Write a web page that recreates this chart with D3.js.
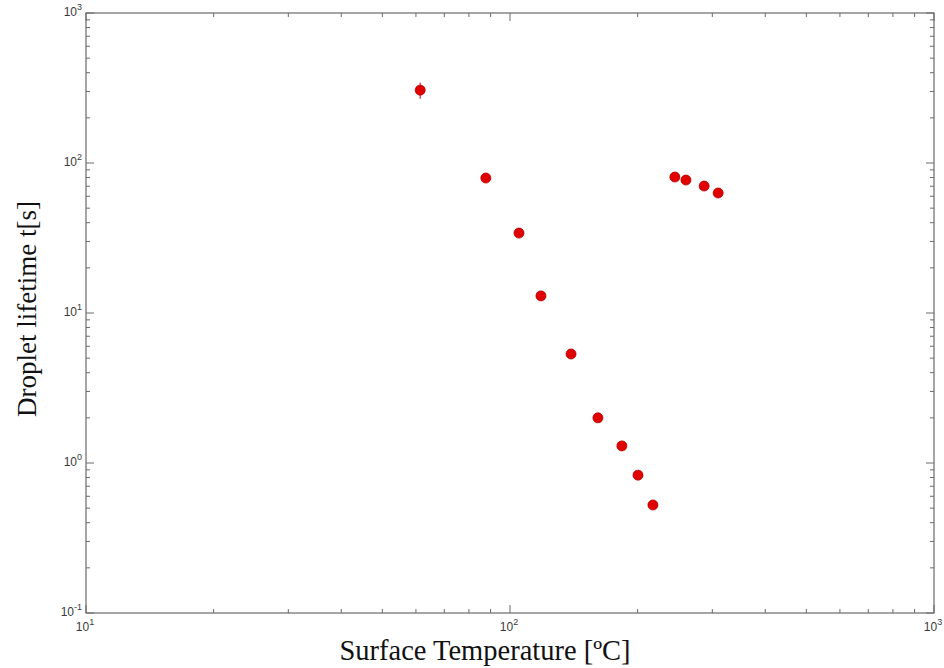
<!DOCTYPE html>
<html>
<head>
<meta charset="utf-8">
<script src="https://cdn.jsdelivr.net/npm/d3@7"></script>
<style>
  html, body { margin: 0; padding: 0; background: #fff; }
  svg { display: block; }
</style>
</head>
<body>
<div id="chart"></div>
<script>
// Surface temperature [ºC] and droplet lifetime [s]
const temperature = [61.4, 87.7, 105, 118.3, 139.3, 161.2, 183.6, 200.4, 217.3, 244.8, 260, 287, 309.7]
const lifetime = [306, 79.4, 34.1, 13.0, 5.33, 2.0, 1.30, 0.83, 0.525, 80.6, 77.0, 70.2, 63.1]
// error bar half-height in seconds (only the first one is visible)
const lifetimeErr = [38, 0, 0, 0, 0, 0, 0, 0, 0, 0, 0, 0, 0]
const xTickExps = [1, 2, 3]
const yTickExps = [-1, 0, 1, 2, 3]

const width = 944
const height = 668
const plotLeft = 86
const plotRight = 934
const plotTop = 13
const plotBottom = 613

const svg = d3.select('#chart')
    .append('svg')
    .attr('width', width)
    .attr('height', height)
    .attr('viewBox', [0, 0, width, height])

const x = d3.scaleLog()
    .domain([10, 1000])
    .range([plotLeft, plotRight])
const y = d3.scaleLog()
    .domain([0.1, 1000])
    .range([plotBottom, plotTop])

const axisColor = '#6a6a6a'
const majorLen = 8
const minorLen = 4

// minor tick positions (2..9 in each decade)
const minorVals = (scale) => {
    const [a, b] = scale.domain()
    const out = []
    for (let e = Math.log10(a); e < Math.log10(b); e++) {
        for (let m = 2; m <= 9; m++) out.push(m * Math.pow(10, e))
    }
    return out
}

const axes = svg.append('g').attr('id', 'axes')

// box
axes.append('rect')
    .attr('x', plotLeft)
    .attr('y', plotTop)
    .attr('width', plotRight - plotLeft)
    .attr('height', plotBottom - plotTop)
    .attr('fill', 'none')
    .attr('stroke', axisColor)
    .attr('stroke-width', 1.2)

// x ticks, bottom and top, pointing inward
const xMajor = xTickExps.map(e => Math.pow(10, e))
const xTicks = xMajor.map(v => ({ v, len: majorLen })).concat(minorVals(x).map(v => ({ v, len: minorLen })))
axes.append('g').selectAll('line')
    .data(xTicks)
    .join('line')
    .attr('x1', d => x(d.v)).attr('x2', d => x(d.v))
    .attr('y1', plotBottom).attr('y2', d => plotBottom - d.len)
    .attr('stroke', axisColor)
axes.append('g').selectAll('line')
    .data(xTicks)
    .join('line')
    .attr('x1', d => x(d.v)).attr('x2', d => x(d.v))
    .attr('y1', plotTop).attr('y2', d => plotTop + d.len)
    .attr('stroke', axisColor)

// y ticks, left and right
const yMajor = yTickExps.map(e => Math.pow(10, e))
const yTicks = yMajor.map(v => ({ v, len: majorLen })).concat(minorVals(y).map(v => ({ v, len: minorLen })))
axes.append('g').selectAll('line')
    .data(yTicks)
    .join('line')
    .attr('y1', d => y(d.v)).attr('y2', d => y(d.v))
    .attr('x1', plotLeft).attr('x2', d => plotLeft + d.len)
    .attr('stroke', axisColor)
axes.append('g').selectAll('line')
    .data(yTicks)
    .join('line')
    .attr('y1', d => y(d.v)).attr('y2', d => y(d.v))
    .attr('x1', plotRight).attr('x2', d => plotRight - d.len)
    .attr('stroke', axisColor)

// tick labels 10^n
const tickFont = '"Liberation Sans", Arial, sans-serif'
const tickColor = '#3a3a3a'
const addPow = (sel, e) => {
    sel.append('tspan').text('10')
    sel.append('tspan')
        .attr('dy', -6)
        .attr('font-size', 9)
        .text(e)
}
xTickExps.forEach(e => {
    const t = axes.append('text')
        .attr('x', x(Math.pow(10, e)) - 1)
        .attr('y', 631)
        .attr('text-anchor', 'middle')
        .attr('font-family', tickFont)
        .attr('font-size', 12)
        .attr('fill', tickColor)
    addPow(t, e)
})
yTickExps.forEach(e => {
    const t = axes.append('text')
        .attr('x', 82)
        .attr('y', y(Math.pow(10, e)) + 3)
        .attr('text-anchor', 'end')
        .attr('font-family', tickFont)
        .attr('font-size', 12)
        .attr('fill', tickColor)
    addPow(t, e)
})

// axis titles
svg.append('text')
    .attr('x', 485)
    .attr('y', 660)
    .attr('text-anchor', 'middle')
    .attr('font-family', '"Liberation Serif", "Times New Roman", serif')
    .attr('font-size', 28.5)
    .attr('fill', '#111')
    .text('Surface Temperature [ºC]')
svg.append('text')
    .attr('transform', 'translate(36, 309) rotate(-90)')
    .attr('text-anchor', 'middle')
    .attr('font-family', '"Liberation Serif", "Times New Roman", serif')
    .attr('font-size', 27)
    .attr('fill', '#111')
    .text('Droplet lifetime t[s]')

// data
const data = temperature.map((t, i) => ({ t, life: lifetime[i], err: lifetimeErr[i] }))
const plot = svg.append('g').attr('id', 'plot')
plot.selectAll('line')
    .data(data.filter(d => d.err > 0))
    .join('line')
    .attr('x1', d => x(d.t)).attr('x2', d => x(d.t))
    .attr('y1', d => y(d.life - d.err)).attr('y2', d => y(d.life + d.err))
    .attr('stroke', '#d00000')
    .attr('stroke-width', 1)
plot.selectAll('circle')
    .data(data)
    .join('circle')
    .attr('cx', d => x(d.t))
    .attr('cy', d => y(d.life))
    .attr('r', 5)
    .attr('fill', '#e00000')
    .attr('stroke', '#b20000')
    .attr('stroke-width', 0.8)
</script>
</body>
</html>
